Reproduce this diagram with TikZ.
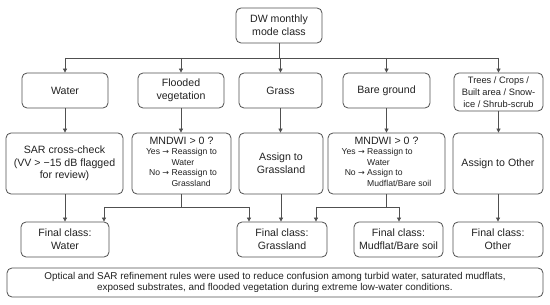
\documentclass[tikz,border=0pt]{standalone}
\usepackage{fontspec}
\setmainfont{Liberation Sans}
\newfontfamily\arrfont{DejaVu Sans}
\usetikzlibrary{arrows.meta}
\definecolor{linecol}{HTML}{505050}
\definecolor{txtcol}{HTML}{222222}
\newcommand{\myarr}{{\arrfont\fontsize{8}{10}\selectfont →}}
\begin{document}
\begin{tikzpicture}[x=1pt,y=-1pt,
  box/.style={draw=linecol, line width=0.8pt, rounded corners=5pt, fill=white,
    align=center, inner sep=1pt, text=txtcol,
    font=\fontsize{10.6}{12.6}\selectfont},
  conn/.style={draw=linecol, line width=0.8pt},
  arr/.style={conn, -{Triangle[length=4pt,width=4pt]}}]
\path[use as bounding box, fill=white] (0,0) rectangle (550,305);

% top
\node[box, minimum width=86pt, minimum height=35pt] (top) at (279,25.5) {DW monthly\\mode class};

% row 1
\node[box, minimum width=86pt, minimum height=35pt] (water) at (65,90.5) {Water};
\node[box, minimum width=86pt, minimum height=35pt] (flooded) at (181,90.5) {Flooded\\vegetation};
\node[box, minimum width=83pt, minimum height=35pt] (grass) at (280.5,90.5) {Grass};
\node[box, minimum width=87pt, minimum height=35pt] (bare) at (386.5,90.5) {Bare ground};
\node[box, minimum width=89pt, minimum height=38pt, font=\fontsize{9.3}{12.3}\selectfont] (trees) at (498.5,92) {Trees / Crops /\\Built area / Snow-\\ice / Shrub-scrub};

% row 2
\node[box, minimum width=117pt, minimum height=61pt] (sar) at (64.5,163.5) {SAR cross-check\\(VV > −15 dB flagged\\for review)};
\node[box, minimum width=99pt, minimum height=61pt] (mndwia) at (181.5,163.5) {MNDWI > 0 ?\\[1pt]
  {\fontsize{8.6}{10.6}\selectfont\begin{tabular}{@{}r@{ }l@{}}
  Yes \myarr & Reassign to\\ & Water\\ No \myarr & Reassign to\\ & Grassland
  \end{tabular}}};
\node[box, minimum width=84pt, minimum height=61pt] (assigng) at (281,163.5) {Assign to\\Grassland};
\node[box, minimum width=117pt, minimum height=61pt] (mndwib) at (386.5,163.5) {MNDWI > 0 ?\\[1pt]
  {\fontsize{8.6}{10.6}\selectfont\begin{tabular}{@{}r@{ }l@{}}
  Yes \myarr & Reassign to\\ & Water\\ No \myarr & Assign to\\ & Mudflat/Bare soil
  \end{tabular}}};
\node[box, minimum width=90pt, minimum height=61pt] (assigno) at (498,163.5) {Assign to Other};

% row 3
\node[box, minimum width=88pt, minimum height=35pt] (fwater) at (65,239.5) {Final class:\\Water};
\node[box, minimum width=90pt, minimum height=35pt] (fgrass) at (282,239.5) {Final class:\\Grassland};
\node[box, minimum width=89pt, minimum height=35pt] (fmud) at (398.5,239.5) {Final class:\\Mudflat/Bare soil};
\node[box, minimum width=90pt, minimum height=35pt] (fother) at (498,239.5) {Final class:\\Other};

% note
\node[box, minimum width=536pt, minimum height=29pt, font=\fontsize{9.9}{11.8}\selectfont] (note) at (275,282.5)
  {Optical and SAR refinement rules were used to reduce confusion among turbid water, saturated mudflats,\\exposed substrates, and flooded vegetation during extreme low-water conditions.};

% top distribution
\coordinate (hl) at (0,58);
\draw[conn] (top.south) -- (top.south |- hl);
\draw[conn] (water.north |- hl) -- (trees.north |- hl);
\foreach \n in {water,flooded,grass,bare,trees}
  \draw[arr] (\n.north |- hl) -- (\n.north);

% row1 -> row2
\draw[arr] (water.south) -- (water.south |- sar.north);
\draw[arr] (flooded.south) -- (flooded.south |- mndwia.north);
\draw[arr] (grass.south) -- (grass.south |- assigng.north);
\draw[arr] (bare.south) -- (bare.south |- mndwib.north);
\draw[arr] (trees.south) -- (trees.south |- assigno.north);

% row2 -> row3
\draw[arr] (sar.south -| fwater.north) -- (fwater.north);
\draw[arr] (assigng.south) -- (assigng.south |- fgrass.north);
\draw[arr] (assigno.south) -- (assigno.south |- fother.north);

\coordinate (wa) at (104,207);
\coordinate (ga) at (249,207);
\coordinate (gb) at (316,207);
\coordinate (ma) at (399,207);
\draw[conn] (mndwia.south) -- (mndwia.south |- wa);
\draw[conn] (wa) -- (ga);
\draw[arr] (wa) -- (wa |- fwater.north);
\draw[arr] (ga) -- (ga |- fgrass.north);
\draw[conn] (mndwib.south) -- (mndwib.south |- gb);
\draw[conn] (gb) -- (ma);
\draw[arr] (gb) -- (gb |- fgrass.north);
\draw[arr] (ma) -- (ma |- fmud.north);
\end{tikzpicture}
\end{document}
